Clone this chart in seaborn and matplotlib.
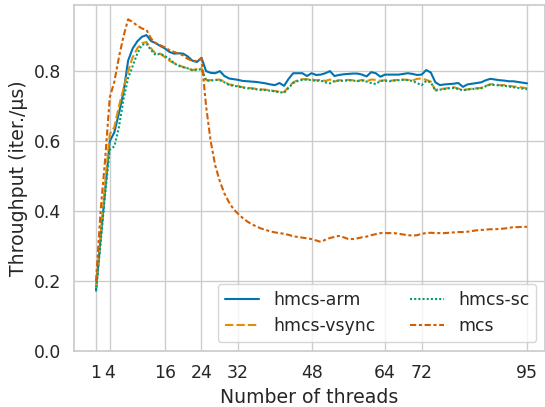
import numpy as np
import pandas as pd
import seaborn as sns
import matplotlib
matplotlib.use("Agg")
import matplotlib.pyplot as plt

threads = list(range(1, 96))

hmcs_arm = [
    0.175, 0.320, 0.460, 0.600, 0.625, 0.680, 0.740, 0.830, 0.865, 0.885,
    0.898, 0.903, 0.886, 0.880, 0.872, 0.865, 0.855, 0.850, 0.851, 0.850,
    0.842, 0.830, 0.826, 0.838, 0.800, 0.795, 0.794, 0.800, 0.786, 0.779,
    0.777, 0.775, 0.772, 0.771, 0.770, 0.769, 0.767, 0.765, 0.762, 0.760,
    0.766, 0.758, 0.778, 0.794, 0.794, 0.794, 0.786, 0.794, 0.789, 0.790,
    0.794, 0.800, 0.786, 0.789, 0.791, 0.792, 0.793, 0.793, 0.790, 0.785,
    0.797, 0.794, 0.784, 0.790, 0.790, 0.790, 0.790, 0.792, 0.794, 0.792,
    0.789, 0.790, 0.803, 0.796, 0.768, 0.760, 0.762, 0.763, 0.764, 0.766,
    0.755, 0.762, 0.764, 0.766, 0.768, 0.774, 0.778, 0.776, 0.774, 0.773,
    0.771, 0.771, 0.769, 0.767, 0.765,
]

hmcs_vsync = [
    0.180, 0.330, 0.480, 0.620, 0.640, 0.700, 0.750, 0.800, 0.840, 0.865,
    0.880, 0.883, 0.865, 0.850, 0.850, 0.840, 0.830, 0.823, 0.817, 0.812,
    0.808, 0.803, 0.806, 0.808, 0.775, 0.774, 0.775, 0.776, 0.770, 0.762,
    0.760, 0.757, 0.754, 0.752, 0.751, 0.749, 0.748, 0.747, 0.745, 0.743,
    0.741, 0.740, 0.755, 0.768, 0.774, 0.777, 0.777, 0.776, 0.774, 0.775,
    0.772, 0.776, 0.770, 0.774, 0.773, 0.775, 0.774, 0.772, 0.775, 0.771,
    0.776, 0.775, 0.772, 0.774, 0.772, 0.774, 0.775, 0.776, 0.775, 0.773,
    0.778, 0.779, 0.775, 0.770, 0.746, 0.749, 0.750, 0.752, 0.754, 0.750,
    0.746, 0.748, 0.750, 0.751, 0.752, 0.758, 0.763, 0.762, 0.760, 0.760,
    0.758, 0.756, 0.755, 0.753, 0.751,
]

hmcs_sc = [
    0.170, 0.310, 0.450, 0.575, 0.585, 0.640, 0.720, 0.780, 0.815, 0.850,
    0.875, 0.878, 0.860, 0.846, 0.850, 0.843, 0.835, 0.823, 0.815, 0.811,
    0.808, 0.803, 0.803, 0.806, 0.772, 0.773, 0.775, 0.774, 0.768, 0.760,
    0.758, 0.756, 0.753, 0.751, 0.750, 0.748, 0.746, 0.746, 0.744, 0.742,
    0.740, 0.738, 0.752, 0.766, 0.772, 0.775, 0.776, 0.774, 0.772, 0.773,
    0.768, 0.765, 0.772, 0.773, 0.772, 0.774, 0.773, 0.771, 0.773, 0.770,
    0.766, 0.763, 0.772, 0.773, 0.771, 0.773, 0.774, 0.775, 0.774, 0.772,
    0.766, 0.760, 0.772, 0.768, 0.744, 0.747, 0.749, 0.751, 0.752, 0.749,
    0.745, 0.747, 0.749, 0.750, 0.751, 0.757, 0.761, 0.760, 0.759, 0.758,
    0.756, 0.754, 0.752, 0.750, 0.748,
]

mcs = [
    0.200, 0.400, 0.550, 0.725, 0.770, 0.840, 0.900, 0.948, 0.940, 0.930,
    0.922, 0.918, 0.893, 0.880, 0.874, 0.868, 0.860, 0.855, 0.850, 0.845,
    0.835, 0.830, 0.828, 0.837, 0.700, 0.600, 0.530, 0.485, 0.450, 0.425,
    0.405, 0.392, 0.380, 0.370, 0.362, 0.356, 0.350, 0.346, 0.342, 0.339,
    0.337, 0.335, 0.332, 0.328, 0.326, 0.324, 0.322, 0.320, 0.316, 0.312,
    0.318, 0.323, 0.326, 0.329, 0.325, 0.320, 0.320, 0.322, 0.325, 0.327,
    0.331, 0.334, 0.337, 0.337, 0.337, 0.337, 0.335, 0.333, 0.331, 0.330,
    0.331, 0.335, 0.337, 0.338, 0.337, 0.337, 0.337, 0.338, 0.339, 0.340,
    0.340, 0.341, 0.343, 0.345, 0.346, 0.347, 0.348, 0.348, 0.349, 0.350,
    0.352, 0.354, 0.354, 0.355, 0.355,
]

locks = ["hmcs-arm", "hmcs-vsync", "hmcs-sc", "mcs"]
xticks = [1, 4, 16, 24, 32, 48, 64, 72, 95]

rows = []
for name, vals in zip(locks, [hmcs_arm, hmcs_vsync, hmcs_sc, mcs]):
    for t, v in zip(threads, vals):
        rows.append((t, v, name))
df = pd.DataFrame(rows, columns=["threads", "throughput", "lock"])

sns.set_theme(style="whitegrid", palette="colorblind", font_scale=1.13)

fig = plt.figure(figsize=(5.45, 4.07), dpi=100)
ax = fig.add_axes([74 / 545, (407 - 351) / 407, (545 - 74) / 545, 346 / 407])

sns.lineplot(data=df, x="threads", y="throughput", hue="lock", style="lock",
             hue_order=locks, style_order=locks, ax=ax)

ax.set_xticks(xticks)
ax.set_xlim(-3.8, 98.9)
ax.set_ylim(0, 0.989)
ax.set_yticks([0.0, 0.2, 0.4, 0.6, 0.8])
ax.set_xlabel("Number of threads")
ax.set_ylabel("Throughput (iter./µs)")
ax.legend(ncol=2, loc="lower right", title=None)

fig.savefig("out.png", dpi=100)
